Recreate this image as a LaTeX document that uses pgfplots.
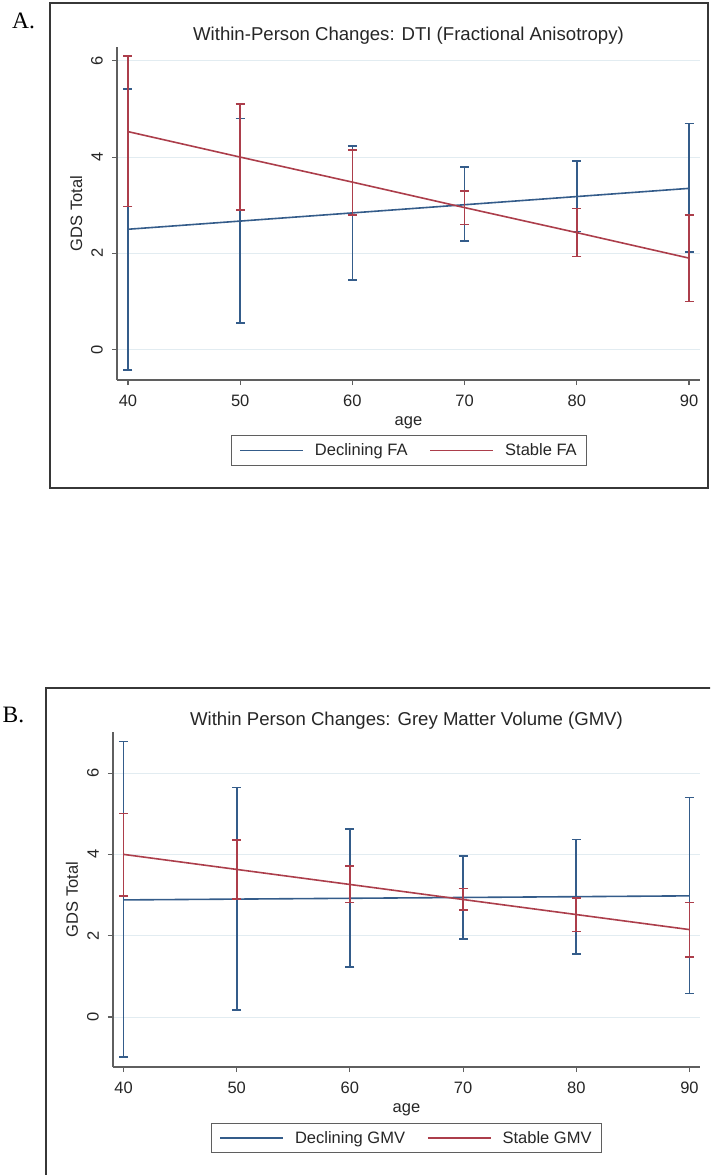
\documentclass[border=0pt]{standalone}
\usepackage{fontspec}
\setmainfont{Liberation Sans}
\newfontfamily\panelfont{Liberation Serif}
\usepackage{pgfplots}
\usepackage{pgfplotstable}
\pgfplotsset{compat=1.18}

\definecolor{stnavy}{RGB}{52,92,138}
\definecolor{stmaroon}{RGB}{172,62,75}
\definecolor{stgrid}{RGB}{226,236,241}
\definecolor{staxis}{RGB}{95,95,95}
\definecolor{stframe}{RGB}{55,55,55}

% age, fitted GDS total, 95% CI
\pgfplotstableread{
age fit lo hi
40 2.50 -0.42 5.42
50 2.67 0.55 4.80
60 2.84 1.45 4.23
70 3.01 2.25 3.80
80 3.18 2.45 3.92
90 3.35 2.03 4.70
}\declFA
\pgfplotstableread{
age fit lo hi
40 4.53 2.97 6.10
50 4.00 2.90 5.10
60 3.48 2.80 4.15
70 2.95 2.60 3.30
80 2.43 1.93 2.93
90 1.90 1.00 2.80
}\stabFA
\pgfplotstableread{
age fit lo hi
40 2.88 -0.98 6.78
50 2.90 0.17 5.65
60 2.92 1.23 4.62
70 2.94 1.92 3.96
80 2.96 1.55 4.37
90 2.98 0.58 5.40
}\declGMV
\pgfplotstableread{
age fit lo hi
40 4.00 2.97 5.01
50 3.63 2.90 4.35
60 3.26 2.82 3.71
70 2.89 2.63 3.16
80 2.52 2.10 2.93
90 2.15 1.47 2.82
}\stabGMV

\pgfplotsset{
  stata/.style={
    scale only axis,
    axis lines=left,
    axis line style={-, staxis, line width=1.3pt},
    tick align=outside,
    major tick length=5pt,
    tick style={staxis, line width=1.1pt},
    xtick={40,50,...,90},
    ytick={0,2,4,6},
    ymajorgrids,
    grid style={stgrid, line width=1pt},
    /pgf/number format/assume math mode=true,
    tick label style={font=\fontsize{16.5}{18}\selectfont, text=black!85},
    xticklabel style={yshift=-6pt},
    yticklabel style={rotate=90, anchor=south, inner ysep=9pt},
    label style={font=\fontsize{16.5}{18}\selectfont, text=black!85},
    xlabel style={at={(axis description cs:0.5,0)}, anchor=center, yshift=-43pt},
    ylabel style={at={(axis description cs:-0.07,0.5)}, anchor=center},
    title style={font=\fontsize{18.6}{22}\selectfont, text=black!85, at={(axis description cs:0.5,1)}, anchor=center, yshift=5pt},
    legend columns=2,
    legend cell align=left,
    legend style={anchor=center, draw=staxis, line width=1pt,
      font=\fontsize{16.5}{18}\selectfont, text=black!85,
      inner xsep=8pt, inner ysep=6pt,
      /tikz/every even column/.append style={column sep=20pt}},
    legend image code/.code={
      \draw[#1, line width=1.6pt] (0pt,0pt) -- (63pt,0pt);
      \path (72pt,0pt);},
    ci/.style={line width=1.6pt, mark=none,
      error bars/.cd, y dir=both, y explicit,
      error bar style={line width=1.6pt},
      error mark options={rotate=90, mark size=4.5pt, line width=1.6pt}},
  },
}

\begin{document}
\begin{tikzpicture}
\path[use as bounding box] (0pt,0pt) rectangle (710pt,-1175pt);
\clip (0pt,0pt) rectangle (710pt,-1175pt);

\draw[stframe, line width=2pt] (50pt,-3pt) rectangle (708pt,-488pt);
\draw[stframe, line width=2pt] (46pt,-688pt) rectangle (730pt,-1200pt);
\node[font=\panelfont\fontsize{23.5}{26}\selectfont, inner sep=0pt] at (23.5pt,-20.5pt) {A.};
\node[font=\panelfont\fontsize{23.5}{26}\selectfont, inner sep=0pt] at (13.5pt,-715pt) {B.};

\begin{axis}[stata,
  at={(117pt,-380pt)}, anchor=south west,
  width=583pt, height=333pt,
  xmin=39.02, xmax=90.98, ymin=-0.634, ymax=6.289,
  title={Within-Person Changes: DTI (Fractional Anisotropy)},
  xlabel={age}, ylabel={GDS Total},
  legend style={at={(0.5009,-0.2117)}},
]
\addplot[stnavy, ci] table[x=age, y=fit,
  y error plus expr=\thisrow{hi}-\thisrow{fit},
  y error minus expr=\thisrow{fit}-\thisrow{lo}] {\declFA};
\addplot[stmaroon, ci] table[x=age, y=fit,
  y error plus expr=\thisrow{hi}-\thisrow{fit},
  y error minus expr=\thisrow{fit}-\thisrow{lo}] {\stabFA};
\legend{Declining FA, Stable FA}
\end{axis}

\begin{axis}[stata,
  at={(113pt,-1067pt)}, anchor=south west,
  width=587pt, height=335pt,
  xmin=39.07, xmax=90.93, ymin=-1.23, ymax=7.01,
  title={Within Person Changes: Grey Matter Volume (GMV)},
  xlabel={age}, ylabel={GDS Total},
  legend style={at={(0.5,-0.212)}},
]
\addplot[stnavy, ci] table[x=age, y=fit,
  y error plus expr=\thisrow{hi}-\thisrow{fit},
  y error minus expr=\thisrow{fit}-\thisrow{lo}] {\declGMV};
\addplot[stmaroon, ci] table[x=age, y=fit,
  y error plus expr=\thisrow{hi}-\thisrow{fit},
  y error minus expr=\thisrow{fit}-\thisrow{lo}] {\stabGMV};
\legend{Declining GMV, Stable GMV}
\end{axis}
\end{tikzpicture}
\end{document}
